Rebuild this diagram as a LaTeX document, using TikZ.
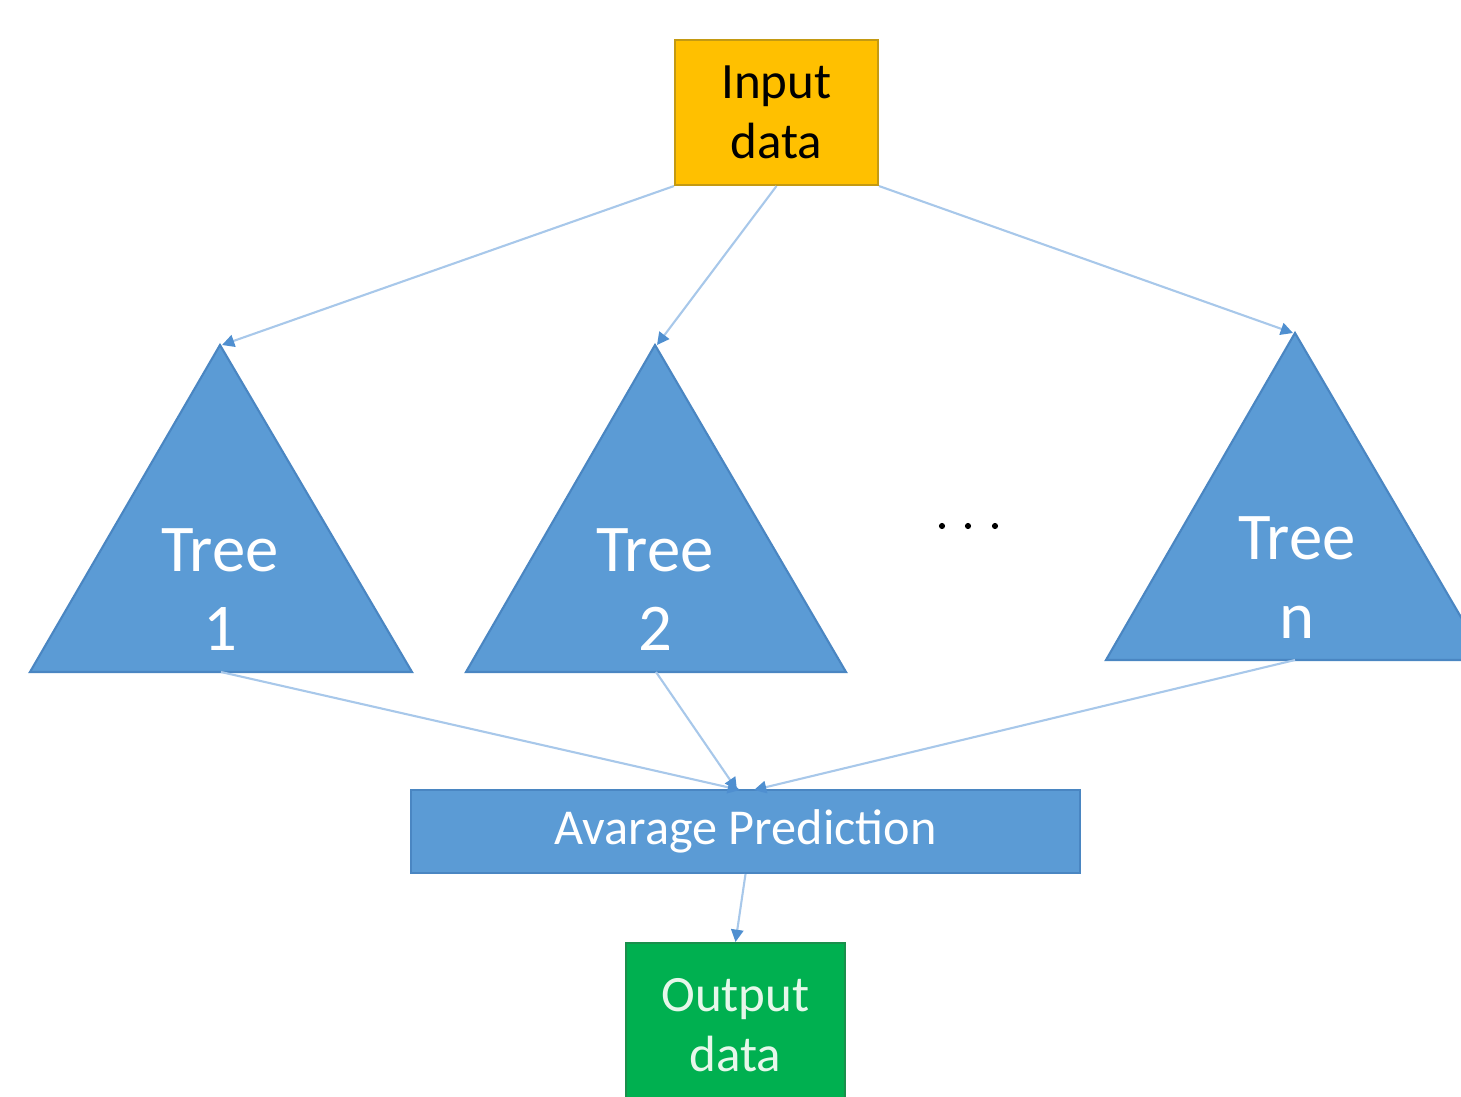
\documentclass[tikz,border=0pt]{standalone}
\usepackage{fontspec}
\setmainfont{Carlito}
\usetikzlibrary{arrows.meta}
\definecolor{inyellow}{HTML}{FFC000}
\definecolor{inborder}{HTML}{C49A12}
\definecolor{treeblue}{HTML}{5B9BD5}
\definecolor{treeborder}{HTML}{4A86C2}
\definecolor{outgreen}{HTML}{00B050}
\definecolor{outborder}{HTML}{1A8F4C}
\definecolor{linkblue}{HTML}{A8C8EA}
\definecolor{tipblue}{HTML}{4F8FD0}
\definecolor{outtext}{HTML}{E6F7EA}
\tikzset{
  box/.style={rectangle, line width=1.2pt, align=center, inner sep=0pt},
  tri/.style={fill=treeblue, draw=treeborder, line width=1.2pt, line join=miter},
  treelabel/.style={text=white, align=center, font=\fontsize{38}{45}\selectfont},
  link/.style={draw=linkblue, line width=1.2pt,
    -{Triangle[length=7pt,width=7pt,color=tipblue,fill=tipblue]}},
  dot/.style={circle, fill=black, inner sep=0pt, minimum size=3.5pt}
}
\begin{document}
\begin{tikzpicture}[x=0.02cm, y=-0.02cm]
\useasboundingbox (0,0) rectangle (1461,1096);
\clip (0,0) rectangle (1461,1096);

% Input box
\node[box, fill=inyellow, draw=inborder, minimum width=4.06cm, minimum height=2.9cm,
      font=\fontsize{29}{34}\selectfont] (in) at (776.5,112.5) {Input\\data};

% Trees
\draw[tri] (30,672) -- (220,345) -- (412,672) -- cycle;
\coordinate (t1top) at (222,345);
\coordinate (t1bot) at (221,672);
\node[treelabel] (t1) at (220,590) {Tree\\1};

\draw[tri] (466,672) -- (655,345) -- (846,672) -- cycle;
\coordinate (t2top) at (657,345);
\coordinate (t2bot) at (656,672);
\node[treelabel] (t2) at (655,590) {Tree\\2};

\draw[tri] (1106,660) -- (1295,333) -- (1486,660) -- cycle;
\coordinate (tntop) at (1293,333);
\coordinate (tnbot) at (1295,660);
\node[treelabel] (tn) at (1297,578) {Tree\\n};

% Dots
\node[dot] (d1) at (942,526) {};
\node[dot] (d2) at (968,526) {};
\node[dot] (d3) at (995,526) {};

% Average box
\node[box, fill=treeblue, draw=treeborder, minimum width=13.38cm, minimum height=1.66cm,
      text=white, font=\fontsize{28.6}{32}\selectfont] (avg) at (745.5,831.5) {Avarage Prediction};
\coordinate (avgin1) at (740,790);
\coordinate (avgin2) at (737,790);
\coordinate (avgin3) at (754,790);

% Output box
\node[box, fill=outgreen, draw=outborder, minimum width=4.38cm, minimum height=3.28cm,
      text=outtext, font=\fontsize{29}{34}\selectfont] (out) at (735.5,1025) {Output\\data};

% Connectors
\draw[link] (in.south west) -- (t1top);
\draw[link] (in.south) -- (t2top);
\draw[link] (in.south east) -- (tntop);
\draw[link] (t1bot) -- (avgin1);
\draw[link] (t2bot) -- (avgin2);
\draw[link] (tnbot) -- (avgin3);
\draw[link] (avg.south) -- (out.north);
\end{tikzpicture}
\end{document}
